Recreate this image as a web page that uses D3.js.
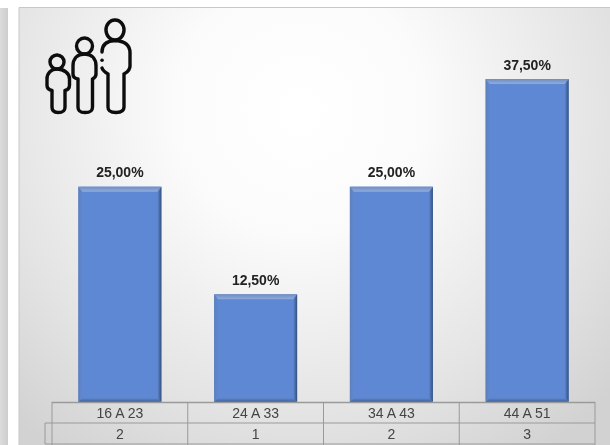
<!DOCTYPE html>
<html><head><meta charset="utf-8">
<script src="https://cdn.jsdelivr.net/npm/d3@7"></script>
<style>html,body{margin:0;padding:0;background:#fff;overflow:hidden}svg{display:block}
text{font-family:"Liberation Sans",Arial,sans-serif}</style></head>
<body><svg id="c" width="610" height="445"></svg>
<script>
const categories = ["16 A 23","24 A 33","34 A 43","44 A 51"];
const percents = [25, 12.5, 25, 37.5];
const percentLabels = ["25,00%","12,50%","25,00%","37,50%"];
const counts = [2,1,2,3];

const svg = d3.select("#c");
const defs = svg.append("defs");
const bg = defs.append("radialGradient").attr("id","bg").attr("gradientUnits","userSpaceOnUse")
  .attr("cx",300).attr("cy",110).attr("r",420);
bg.append("stop").attr("offset",0).attr("stop-color","#ffffff");
bg.append("stop").attr("offset",0.3).attr("stop-color","#fbfbfb");
bg.append("stop").attr("offset",0.72).attr("stop-color","#e4e4e4");
bg.append("stop").attr("offset",1).attr("stop-color","#d2d2d2");
const strip = defs.append("linearGradient").attr("id","strip").attr("x1",0).attr("x2",1).attr("y1",0).attr("y2",0);
strip.append("stop").attr("offset",0).attr("stop-color","#dcdcdc");
strip.append("stop").attr("offset",1).attr("stop-color","#cdcdcd");
const grad = (id,x2,y2,a,b)=>{const g=defs.append("linearGradient").attr("id",id).attr("x1",0).attr("y1",0).attr("x2",x2).attr("y2",y2);
  g.append("stop").attr("offset",0).attr("stop-color",a);g.append("stop").attr("offset",1).attr("stop-color",b);};
grad("fTop",0,1,"#6f8dbf","#90acdf");
grad("fLeft",1,0,"#5f80b8","#5f88d4");
grad("fRight",1,0,"#5f88d0","#33507f");
grad("fBot",0,1,"#5f88d0","#3f5f96");
const blur = defs.append("filter").attr("id","soft").attr("x","-5%").attr("y","-5%").attr("width","110%").attr("height","110%");
blur.append("feGaussianBlur").attr("stdDeviation",0.5);

// surroundings
svg.append("rect").attr("x",0).attr("y",8).attr("width",8).attr("height",437).attr("fill","url(#strip)");
svg.append("rect").attr("x",19).attr("y",7).attr("width",591).attr("height",438).attr("fill","url(#bg)");
svg.append("path").attr("d","M19,445V7.5H610").attr("fill","none").attr("stroke","#c8c8c8").attr("stroke-width",1);

const x = d3.scaleBand().domain(categories).range([52,595]).paddingInner(0).paddingOuter(0);
const y = d3.scaleLinear().domain([0,37.5]).range([402,79]);
const barW = 83, bev = 4;
const barX = d => x(d) + (x.bandwidth()-barW)/2;

const g = svg.append("g").attr("filter","url(#soft)");
const bars = g.selectAll("g.bar").data(categories.map((c,i)=>({c,v:percents[i],l:percentLabels[i],n:counts[i]})))
  .join("g").attr("class","bar");
bars.append("rect").attr("x",d=>barX(d.c)).attr("y",d=>y(d.v)).attr("width",barW).attr("height",d=>y(0)-y(d.v)).attr("fill","#5f88d4");
const facet = (fn,fill)=>bars.append("polygon").attr("fill",fill).attr("points",fn);
facet(d=>{const l=barX(d.c),t=y(d.v),b=y(0);return [[l,t],[l+bev,t+bev+1],[l+bev,b-bev],[l,b]].join(" ")},"url(#fLeft)");
facet(d=>{const l=barX(d.c),r=l+barW,t=y(d.v),b=y(0);return [[r,t],[r-bev,t+bev+1],[r-bev,b-bev],[r,b]].join(" ")},"url(#fRight)");
facet(d=>{const l=barX(d.c),r=l+barW,b=y(0);return [[l,b],[l+bev,b-bev],[r-bev,b-bev],[r,b]].join(" ")},"url(#fBot)");
facet(d=>{const l=barX(d.c),r=l+barW,t=y(d.v);return [[l,t],[r,t],[r-bev,t+bev+1],[l+bev,t+bev+1]].join(" ")},"url(#fTop)");

bars.append("text").attr("x",d=>x(d.c)+x.bandwidth()/2).attr("y",d=>y(d.v)-9.5).attr("text-anchor","middle")
  .attr("font-size",14).attr("font-weight",700).attr("fill","#222").text(d=>d.l);

// data table
const rowTop = 402;
const tbl = svg.append("g").attr("filter","url(#soft)");
const line = (x1,y1,x2,y2,w=1)=>tbl.append("line").attr("x1",x1).attr("y1",y1).attr("x2",x2).attr("y2",y2).attr("stroke","#9a9a9a").attr("stroke-width",w);
line(52,rowTop+.5,595,rowTop+.5,1.6);
line(45,rowTop+21,595,rowTop+21);
line(45,rowTop+42,595,rowTop+42);
line(45,rowTop+21,45,rowTop+42);
line(52,rowTop,52,445);
categories.forEach(c=>line(x(c)+x.bandwidth(),rowTop,x(c)+x.bandwidth(),445));
tbl.selectAll("text.cat").data(categories).join("text").attr("class","cat")
  .attr("x",d=>x(d)+x.bandwidth()/2).attr("y",rowTop+16).attr("text-anchor","middle").attr("font-size",14).attr("fill","#444").text(d=>d);
tbl.selectAll("text.cnt").data(counts).join("text").attr("class","cnt")
  .attr("x",(d,i)=>x(categories[i])+x.bandwidth()/2).attr("y",rowTop+37).attr("text-anchor","middle").attr("font-size",14).attr("fill","#444").text(d=>d);

// family pictogram
const icon = svg.append("g").attr("fill","none").attr("stroke","#0a0a0a").attr("stroke-width",3.4).attr("stroke-linecap","round").attr("stroke-linejoin","round").attr("filter","url(#soft)");
// large figure
icon.append("ellipse").attr("cx",115).attr("cy",30).attr("rx",9).attr("ry",10);
icon.append("path").attr("d","M102,52C102,45 106,41 115,40.5C125,41 130,45 130,53V66C130,71 127,72 124,74V107C124,111 121,112.5 116,112.5C110,112.5 108,111 108,107V74C105.5,72.5 103,71 102,68");
icon.append("path").attr("d","M102,60.3h.1");
// middle figure
icon.append("circle").attr("cx",84.5).attr("cy",46).attr("r",8);
icon.append("path").attr("d","M84.5,54C77,54 73,59 73,66V74C73,77 75,78.5 78,79V107C78,111 80,112.5 85,112.5C90.5,112.5 92.5,111 92.5,107V79C94.5,78 96,76 96,74V66C96,59 92,54 84.5,54Z");
// small figure
icon.append("circle").attr("cx",57).attr("cy",62).attr("r",7);
icon.append("path").attr("d","M57,69C51,69 47,73.5 47,79V85C47,88 49,90 52,90.5V107C52,111 54,112.5 58,112.5C63,112.5 65,111 65,107V90.5C67.5,90 69.5,88 69.5,85V79C69.5,73.5 64,69 57,69Z");
</script></body></html>
